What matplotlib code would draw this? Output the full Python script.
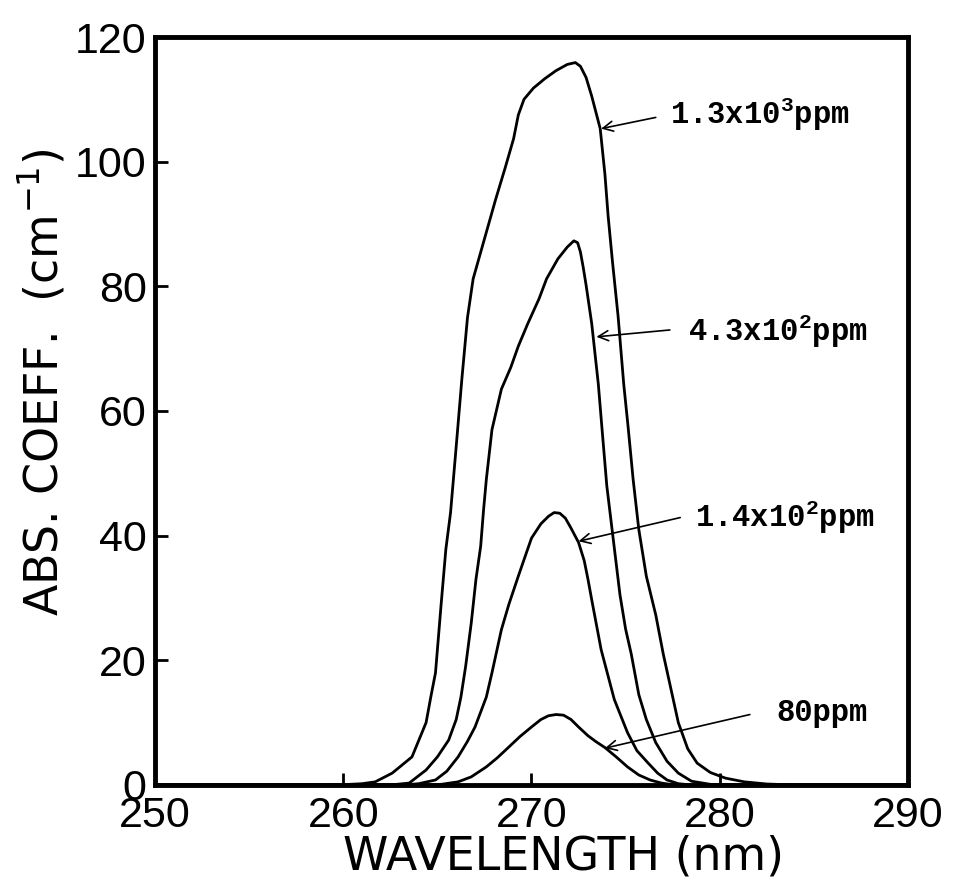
import matplotlib
matplotlib.use("Agg")
import matplotlib.pyplot as plt

# spectra (wavelength in nm, abs. coeff. in cm^-1)
wl_1300 = [250, 258, 260, 261, 261.7, 262.6, 263.65, 264.4, 264.65, 264.9, 265.2, 265.45,
           265.7, 266.0, 266.3, 266.6, 266.9, 267.35, 268.1, 268.6, 269.05, 269.3, 269.6,
           270.1, 270.7, 271.3, 271.9, 272.33, 272.6, 272.9, 273.2, 273.65, 273.9, 274.07,
           274.3, 274.6, 274.9, 275.13, 275.4, 275.7, 276.1, 276.6, 277.0, 277.4, 277.8,
           278.3, 278.8, 279.5, 280.3, 281.3, 282.5, 284, 290]
abs_1300 = [0, 0, 0.05, 0.2, 0.5, 1.9, 4.5, 10, 14.1, 18, 29, 37.8,
            43.7, 54.3, 65.1, 75, 81.2, 86, 94, 99, 103.7, 107.5, 110,
            111.8, 113.3, 114.6, 115.6, 115.9, 115.3, 113.5, 110.5, 105.3, 98, 91.3,
            84, 75.2, 64.3, 57.5, 49, 41, 33.5, 27.3, 21, 15.5, 10,
            5.8, 3.5, 2.0, 1.1, 0.5, 0.15, 0, 0]

wl_430 = [250, 262.5, 263.5, 264.4, 265.0, 265.6, 266.0, 266.25, 266.5, 266.8, 267.05,
          267.3, 267.45, 267.6, 267.9, 268.4, 268.9, 269.3, 269.8, 270.4, 270.8, 271.4,
          271.9, 272.25, 272.45, 272.6, 272.75, 272.9, 273.2, 273.55, 273.75, 274.0, 274.3,
          274.7, 275.0, 275.3, 275.7, 276.1, 276.6, 277.2, 277.8, 278.5, 279.5, 280.5, 290]
abs_430 = [0, 0, 0.3, 2.4, 4.5, 7.2, 10.5, 14.1, 19, 26, 33,
           38.3, 44, 49, 57, 63.5, 67, 70.4, 74, 78, 81.2, 84.4,
           86.3, 87.3, 87.0, 85.5, 83, 80.2, 74, 64.3, 57, 48, 40.5,
           30.5, 25, 21, 14.5, 10.5, 6.8, 3.8, 1.9, 0.6, 0.1, 0, 0]

wl_140 = [250, 263.2, 264.0, 264.9, 265.5, 266.1, 266.6, 267.0, 267.6, 267.9, 268.4,
          268.8, 269.3, 269.7, 270.0, 270.5, 270.9, 271.2, 271.5, 271.8, 272.1, 272.5,
          272.8, 273.0, 273.2, 273.7, 274.4, 275.1, 275.6, 276.2, 276.7, 277.2, 277.8,
          278.5, 290]
abs_140 = [0, 0, 0.2, 0.8, 2.2, 4.5, 7, 9.3, 14.1, 18, 24.9,
           29, 33.5, 37, 39.6, 41.9, 43.1, 43.7, 43.6, 42.8, 41.2, 38.9,
           36, 33, 29.7, 21.7, 13.7, 8.4, 5.5, 3.5, 1.9, 0.8, 0.2,
           0, 0]

wl_80 = [250, 264.5, 265.2, 266.1, 266.8, 267.6, 268.2, 268.8, 269.4, 270.0, 270.5,
         270.9, 271.3, 271.7, 272.1, 272.5, 273.0, 273.4, 273.9, 274.5, 275.1, 275.7,
         276.3, 276.9, 277.6, 290]
abs_80 = [0, 0, 0.1, 0.5, 1.3, 2.9, 4.4, 6.1, 7.8, 9.3, 10.5,
          11.1, 11.3, 11.2, 10.5, 9.3, 7.9, 7.0, 6.0, 4.5, 2.9, 1.6,
          0.8, 0.3, 0, 0]

curves = [(wl_1300, abs_1300), (wl_430, abs_430), (wl_140, abs_140), (wl_80, abs_80)]

# label text, arrow tail (text side) and arrow head on the curve, in data units
labels = ["1.3x10$\\mathregular{^{3}}$ppm", "4.3x10$\\mathregular{^{2}}$ppm",
          "1.4x10$\\mathregular{^{2}}$ppm", "80ppm"]
arrow_tail = [(276.6, 107.1), (277.35, 73.0), (277.9, 42.9), (281.6, 11.3)]
arrow_head = [(273.7, 105.3), (273.45, 71.9), (272.5, 39.1), (273.9, 5.9)]
text_pos = [(277.35, 107.6), (278.3, 72.8), (278.7, 43.0), (283.0, 11.6)]

x_ticks = [250, 260, 270, 280, 290]
y_ticks = [0, 20, 40, 60, 80, 100, 120]

tick_font = ["Liberation Sans", "DejaVu Sans"]
axis_font = ["DejaVu Sans"]
note_font = ["Liberation Mono", "DejaVu Sans Mono"]

fig = plt.figure(figsize=(9.58, 8.92), dpi=100)
ax = fig.add_axes([0.1618, 0.1200, 0.7860, 0.8385])

for wl, a in curves:
    ax.plot(wl, a, color="black", lw=2.0, solid_joinstyle="round", solid_capstyle="round")

for txt, tail, head, pos in zip(labels, arrow_tail, arrow_head, text_pos):
    ax.annotate("", xy=head, xytext=tail,
                arrowprops=dict(arrowstyle="->", color="black", lw=1.2,
                                shrinkA=0, shrinkB=0, mutation_scale=18))
    ax.text(pos[0], pos[1], txt, family=note_font, weight="bold", fontsize=22,
            ha="left", va="center")

ax.set_xlim(250, 290)
ax.set_ylim(0, 120)
ax.set_xticks(x_ticks)
ax.set_yticks(y_ticks)
ax.tick_params(direction="in", length=9, width=2, labelsize=31)
ax.tick_params(axis="x", pad=8)
ax.tick_params(axis="y", pad=6)
for lab in ax.get_xticklabels() + ax.get_yticklabels():
    lab.set_family(tick_font)
for sp in ax.spines.values():
    sp.set_linewidth(3.5)

ax.set_xlabel("WAVELENGTH (nm)", family=axis_font, fontsize=33)
ax.set_ylabel("ABS. COEFF.  (cm$\\mathregular{^{-1}}$)", family=axis_font, fontsize=33)
ax.xaxis.set_label_coords(0.543, -0.066)
ax.yaxis.set_label_coords(-0.115, 0.539)

fig.savefig("out.png", dpi=100)
